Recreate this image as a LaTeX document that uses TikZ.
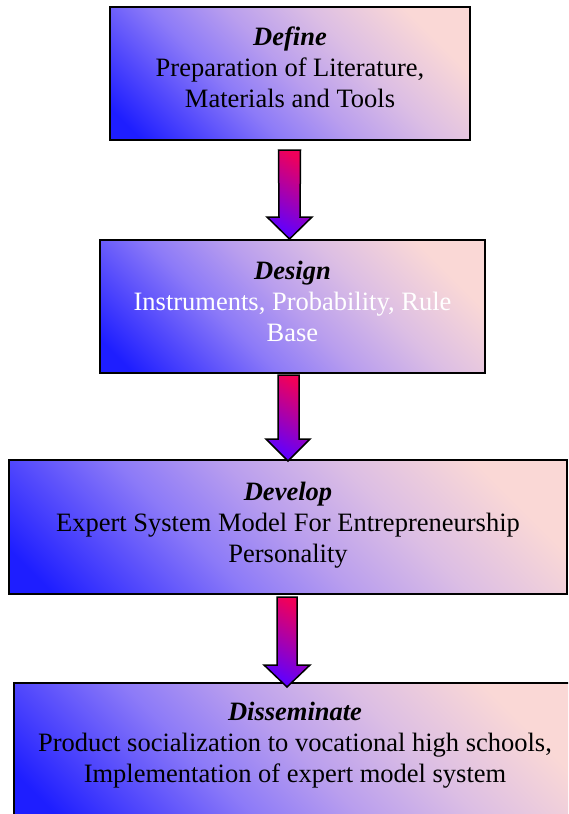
\documentclass[tikz,border=0pt]{standalone}
\usepackage{fontspec}
\setmainfont{Liberation Serif}
\usetikzlibrary{positioning}
\usetikzlibrary{calc}

\definecolor{boxblue}{RGB}{30,30,255}
\definecolor{boxindigo}{RGB}{85,75,252}
\definecolor{boxviolet}{RGB}{140,122,248}
\definecolor{boxlilac}{RGB}{185,158,238}
\definecolor{boxrose}{RGB}{220,190,228}
\definecolor{boxpink}{RGB}{250,216,214}
\definecolor{arrowred}{RGB}{240,0,90}
\definecolor{arrowblue}{RGB}{95,0,255}

\pgfdeclareverticalshading{stageshade}{100bp}{color(0bp)=(boxblue); color(19bp)=(boxblue);
  color(29bp)=(boxindigo); color(39bp)=(boxviolet); color(50bp)=(boxlilac); color(62bp)=(boxrose); color(76bp)=(boxpink); color(100bp)=(boxpink)}

\begin{document}
\begin{tikzpicture}[x=1pt,y=-1pt,
  stagebox/.style={rectangle,draw=black,line width=2pt,inner sep=0pt,
    shading=stageshade,shading angle=-45},
  stagetext/.style={inner sep=0pt,align=center,text=black,font=\fontsize{26.5pt}{31pt}\selectfont},
  flowarrow/.style={draw=black,line width=1.5pt,line join=miter,
    top color=arrowred,bottom color=arrowblue,shading angle=-30}]
\useasboundingbox (0,0) rectangle (568,814);
\clip (0,0) rectangle (568,814);

% stages
\node[stagebox,minimum width=360pt,minimum height=133pt] (define) at (290,73.5) {};
\node[stagebox,minimum width=385pt,minimum height=133pt] (design) at (292.5,306.5) {};
\node[stagebox,minimum width=558pt,minimum height=134pt] (develop) at (288,527) {};
\node[stagebox,minimum width=562pt,minimum height=134pt] (disseminate) at (295,750) {};

\node[stagetext,below=21pt of define.north] (definetext) {\textbf{\textit{Define}}\\Preparation of Literature,\\Materials and Tools};
\node[stagetext,text=white,below=22pt of design.north] (designtext) {\textcolor{black}{\textbf{\textit{Design}}}\\Instruments, Probability, Rule\\Base};
\node[stagetext,below=23pt of develop.north] (developtext) {\textbf{\textit{Develop}}\\Expert System Model For Entrepreneurship\\Personality};
\node[stagetext,below=20pt of disseminate.north] (disseminatetext) {\textbf{\textit{Disseminate}}\\Product socialization to vocational high schools,\\Implementation of expert model system};

% block arrows
\shade[flowarrow] ($(define.south)+(-11.5,9)$) -- ($(define.south)+(10.5,9)$) -- ($(design.north)+(7.5,-22)$) -- ($(design.north)+(19.5,-22)$) -- ($(design.north)+(-3,0)$) -- ($(design.north)+(-25.5,-22)$) -- ($(design.north)+(-13.5,-22)$) -- cycle;
\shade[flowarrow] ($(design.south)+(-14.5,1)$) -- ($(design.south)+(6.5,1)$) -- ($(develop.north)+(11,-20)$) -- ($(develop.north)+(22,-20)$) -- ($(develop.north)+(0,2)$) -- ($(develop.north)+(-22,-20)$) -- ($(develop.north)+(-10,-20)$) -- cycle;
\shade[flowarrow] ($(develop.south)+(-11,2)$) -- ($(develop.south)+(9,2)$) -- ($(disseminate.north)+(2,-17)$) -- ($(disseminate.north)+(15,-17)$) -- ($(disseminate.north)+(-8,5)$) -- ($(disseminate.north)+(-31,-17)$) -- ($(disseminate.north)+(-18,-17)$) -- cycle;

\end{tikzpicture}
\end{document}
